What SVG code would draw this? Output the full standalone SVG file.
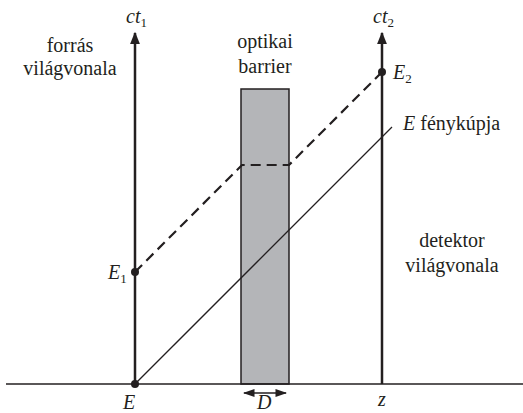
<svg xmlns="http://www.w3.org/2000/svg" width="523" height="413" viewBox="0 0 523 413">
<style>
.axis{stroke:#231f20;stroke-width:2.5;fill:none}
.thin{stroke:#231f20;stroke-width:1.3;fill:none}
.dash{stroke:#231f20;stroke-width:2.2;fill:none;stroke-dasharray:10 6}
</style>
<defs>
<marker id="ah" viewBox="0 0 10 10" refX="9" refY="5" markerWidth="5" markerHeight="5" orient="auto-start-reverse" markerUnits="strokeWidth">
<path d="M0,1 L10,5 L0,9 Z" fill="#231f20"/>
</marker>
<marker id="ah2" viewBox="0 0 10 10" refX="9" refY="5" markerWidth="9" markerHeight="9" orient="auto-start-reverse" markerUnits="strokeWidth">
<path d="M0,1.5 L10,5 L0,8.5 Z" fill="#231f20"/>
</marker>
</defs>
<rect width="523" height="413" fill="#fff"/>
<g id="barrier">
<rect x="241" y="89" width="48" height="295" fill="#b4b5b8" stroke="#231f20" stroke-width="1.5"/>
<text font-family="Liberation Serif" font-size="20" fill="#231f20" x="265" y="48" text-anchor="middle">optikai</text>
<text font-family="Liberation Serif" font-size="20" fill="#231f20" x="265" y="73" text-anchor="middle">barrier</text>
</g>
<g id="connectors">
<line class="thin" x1="6" y1="384" x2="523" y2="384" stroke-width="1.6"/>
<line class="axis" x1="135" y1="384" x2="135" y2="33" marker-end="url(#ah)"/>
<line class="axis" x1="382" y1="384" x2="382" y2="33" marker-end="url(#ah)"/>
<line class="thin" x1="135" y1="384" x2="392" y2="127"/>
<path class="dash" d="M135,272 L242,165 L289,165 L382,72"/>
<line class="thin" x1="244" y1="393" x2="286" y2="393" marker-start="url(#ah2)" marker-end="url(#ah2)" stroke-width="1.3"/>
</g>
<g id="source">
<text font-family="Liberation Serif" font-size="20" fill="#231f20" x="70" y="52" text-anchor="middle">forrás</text>
<text font-family="Liberation Serif" font-size="20" fill="#231f20" x="70" y="75" text-anchor="middle">világvonala</text>
<text font-family="Liberation Serif" font-size="20" fill="#231f20" font-style="italic" x="126" y="23">ct<tspan font-size="13" font-style="normal" dy="4">1</tspan></text>
</g>
<g id="detector">
<text font-family="Liberation Serif" font-size="20" fill="#231f20" x="452" y="247" text-anchor="middle">detektor</text>
<text font-family="Liberation Serif" font-size="20" fill="#231f20" x="452" y="272" text-anchor="middle">világvonala</text>
<text font-family="Liberation Serif" font-size="20" fill="#231f20" font-style="italic" x="373" y="23">ct<tspan font-size="13" font-style="normal" dy="4">2</tspan></text>
</g>
<g id="E">
<circle cx="135" cy="384" r="4" fill="#231f20"/>
<text font-family="Liberation Serif" font-size="20" fill="#231f20" font-style="italic" x="123" y="409">E</text>
</g>
<g id="E1">
<circle cx="135" cy="272" r="4" fill="#231f20"/>
<text font-family="Liberation Serif" font-size="20" fill="#231f20" font-style="italic" x="108" y="279">E<tspan font-size="13" font-style="normal" dy="4">1</tspan></text>
</g>
<g id="E2">
<circle cx="382" cy="72" r="4" fill="#231f20"/>
<text font-family="Liberation Serif" font-size="20" fill="#231f20" font-style="italic" x="393" y="79">E<tspan font-size="13" font-style="normal" dy="4">2</tspan></text>
</g>
<g id="lightcone">
<text font-family="Liberation Serif" font-size="20" fill="#231f20" x="403" y="130"><tspan font-style="italic">E</tspan> fénykúpja</text>
</g>
<g id="D">
<text font-family="Liberation Serif" font-size="20" fill="#231f20" font-style="italic" x="257" y="409">D</text>
</g>
<g id="z">
<text font-family="Liberation Serif" font-size="20" fill="#231f20" font-style="italic" x="378" y="406">z</text>
</g>
</svg>
